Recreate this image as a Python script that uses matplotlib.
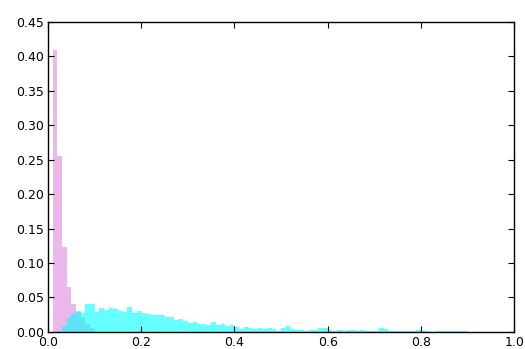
import numpy as np
import matplotlib
matplotlib.use("Agg")
import matplotlib.pyplot as plt

# bin width shared by both histograms
bin_w = 0.01

# magenta histogram: left edges and heights (fraction)
pink_start = 0.01
pink_vals = [0.410, 0.256, 0.123, 0.065, 0.040, 0.029, 0.020, 0.012, 0.006]

# cyan histogram
cyan_start = 0.02
cyan_vals = [
    0.002, 0.008, 0.020, 0.028, 0.031, 0.027, 0.041, 0.041,
    0.029, 0.035, 0.032, 0.035, 0.033, 0.030, 0.029, 0.036, 0.027, 0.030,
    0.027, 0.026, 0.024, 0.024, 0.024, 0.021, 0.021, 0.018, 0.019, 0.016,
    0.013, 0.015, 0.011, 0.011, 0.010, 0.014, 0.010, 0.011, 0.008, 0.010,
    0.007, 0.004, 0.007, 0.006, 0.004, 0.005, 0.004, 0.005, 0.004, 0.002,
    0.006, 0.008, 0.004, 0.003, 0.003, 0.002, 0.003, 0.003, 0.006, 0.006,
    0.003, 0.002, 0.003, 0.002, 0.003, 0.003, 0.002, 0.003, 0.002, 0.002,
    0.002, 0.006, 0.004, 0.002, 0.002, 0.002, 0.001, 0.002, 0.002, 0.003,
    0.001, 0.002, 0.000, 0.001, 0.001, 0.002, 0.001, 0.002, 0.001, 0.001,
]

x_ticks = [0.0, 0.2, 0.4, 0.6, 0.8, 1.0]
y_ticks = np.arange(0, 0.451, 0.05)

pink_edges = pink_start + bin_w * np.arange(len(pink_vals))
cyan_edges = cyan_start + bin_w * np.arange(len(cyan_vals))

fig = plt.figure(figsize=(5.25, 3.49), dpi=100)
ax = fig.add_axes([0.0914, 0.049, 0.888, 0.888])

ax.bar(pink_edges, pink_vals, width=bin_w, align='edge', color='orchid', alpha=0.5, linewidth=0)
ax.bar(cyan_edges, cyan_vals, width=bin_w, align='edge', color='cyan', alpha=0.6, linewidth=0)

ax.set_xlim(0, 1.0)
ax.set_ylim(0, 0.45)
ax.set_xticks(x_ticks)
ax.set_xticklabels(["%.1f" % t for t in x_ticks])
ax.set_yticks(y_ticks)
ax.set_yticklabels(["%.2f" % t for t in y_ticks])
ax.tick_params(direction='in', top=True, right=True, labelsize=9, length=4, pad=3)
for s in ax.spines.values():
    s.set_linewidth(1.0)

plt.savefig("out.png", dpi=100)
